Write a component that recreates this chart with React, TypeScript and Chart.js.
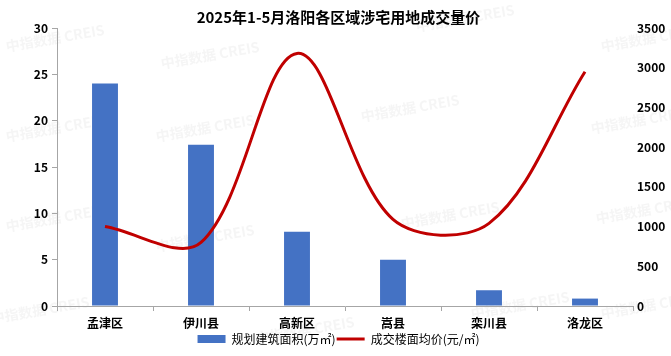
import React, { useEffect, useRef } from "react";
import { Chart, registerables } from "chart.js";

Chart.register(...registerables);

const categories = ["孟津区", "伊川县", "高新区", "嵩县", "栾川县", "洛龙区"];
const areaValues = [24, 17.4, 8, 5, 1.7, 0.8];
const priceValues = [1000, 800, 3180, 1090, 1040, 2950];
const leftTicks = [0, 5, 10, 15, 20, 25, 30];
const rightTicks = [0, 500, 1000, 1500, 2000, 2500, 3000, 3500];
const titleText = "2025年1-5月洛阳各区域涉宅用地成交量价";
const areaLabel = "规划建筑面积(万㎡)";
const priceLabel = "成交楼面均价(元/㎡)";
const watermarkText = "中指数据 CREIS";

const FONT = "'Noto Sans CJK SC', 'Noto Sans', sans-serif";

const watermarkPlugin = {
  id: "watermark",
  beforeDraw(chart: any) {
    const ctx = chart.ctx;
    const spots = [
      [55, 38], [210, 55], [465, 18], [650, 38],
      [55, 128], [205, 128], [410, 108], [640, 120],
      [55, 218], [205, 238], [450, 215], [645, 210],
      [40, 310], [305, 330], [520, 305], [650, 305],
    ];
    ctx.save();
    ctx.font = `bold 14px ${FONT}`;
    ctx.fillStyle = "rgba(160,160,160,0.10)";
    ctx.textAlign = "center";
    ctx.textBaseline = "middle";
    for (const [x, y] of spots) {
      ctx.save();
      ctx.translate(x, y);
      ctx.rotate(-0.17);
      ctx.fillText(watermarkText, 0, 0);
      ctx.restore();
    }
    ctx.restore();
  },
};

export default function App() {
  const ref = useRef<HTMLCanvasElement>(null);
  useEffect(() => {
    document.body.style.margin = "0";
    const chart = new Chart(ref.current!, {
      type: "bar",
      data: {
        labels: categories,
        datasets: [
          {
            type: "bar",
            label: areaLabel,
            data: areaValues,
            backgroundColor: "#4472C4",
            yAxisID: "y",
            barPercentage: 0.27,
            categoryPercentage: 1,
            order: 2,
            pointStyle: "rect",
          } as any,
          {
            type: "line",
            label: priceLabel,
            data: priceValues,
            borderColor: "#C00000",
            backgroundColor: "#C00000",
            borderWidth: 3,
            tension: 0.34,
            pointRadius: 0,
            yAxisID: "y1",
            order: 1,
            pointStyle: "line",
          } as any,
        ],
      },
      options: {
        responsive: false,
        animation: false,
        layout: { padding: { left: 6, right: 0, top: 2, bottom: 1 } },
        plugins: {
          title: {
            display: true,
            text: titleText,
            color: "#000",
            font: { family: FONT, size: 15, weight: "bold" },
            padding: { top: 6, bottom: 2 },
          },
          legend: {
            position: "bottom",
            labels: {
              usePointStyle: true,
              pointStyleWidth: 28,
              boxHeight: 8,
              padding: 1,
              color: "#000",
              font: { family: FONT, size: 12 },
              sort: (a: any, b: any) => a.datasetIndex - b.datasetIndex,
            },
          },
          tooltip: { enabled: false },
        },
        scales: {
          x: {
            offset: true,
            afterFit(scale: any) {
              scale.height = 26;
            },
            grid: {
              offset: true,
              drawOnChartArea: false,
              drawTicks: true,
              tickLength: 5,
              color: "#A6A6A6",
            },
            border: { display: true, color: "#A6A6A6" },
            ticks: {
              color: "#000",
              font: { family: FONT, size: 12, weight: "bold" },
              padding: 5,
              maxRotation: 0,
            },
          },
          y: {
            position: "left",
            min: 0,
            max: 30,
            afterFit(scale: any) {
              scale.width = 51;
            },
            afterBuildTicks(axis: any) {
              axis.ticks = leftTicks.map((v) => ({ value: v }));
            },
            grid: {
              drawOnChartArea: false,
              drawTicks: true,
              tickLength: 5,
              color: "#A6A6A6",
            },
            border: { display: true, color: "#A6A6A6" },
            ticks: {
              color: "#000",
              font: { family: FONT, size: 12, weight: "bold" },
              padding: 4,
            },
          },
          y1: {
            position: "right",
            min: 0,
            max: 3500,
            afterFit(scale: any) {
              scale.width = 38;
            },
            afterBuildTicks(axis: any) {
              axis.ticks = rightTicks.map((v) => ({ value: v }));
            },
            grid: { display: false, drawTicks: false },
            border: { display: false },
            ticks: {
              color: "#000",
              font: { family: FONT, size: 12, weight: "bold" },
              padding: 4,
              callback: (v: any) => String(v),
            },
          },
        },
      },
      plugins: [watermarkPlugin],
    } as any);
    return () => chart.destroy();
  }, []);
  return (
    <div style={{ position: "absolute", left: 0, top: 0, width: 671, height: 356, background: "#fff" }}>
      <canvas ref={ref} width={671} height={356} />
    </div>
  );
}
